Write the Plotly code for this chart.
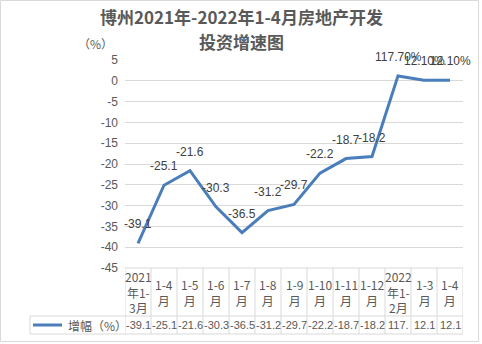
import plotly.graph_objects as go

# Period labels (data-table header) and growth values
periods = ["2021<br>年1-<br>3月", "1-4<br>月", "1-5<br>月", "1-6<br>月", "1-7<br>月", "1-8<br>月",
           "1-9<br>月", "1-10<br>月", "1-11<br>月", "1-12<br>月", "2022<br>年1-<br>2月", "1-3<br>月", "1-4<br>月"]
growth = [-39.1, -25.1, -21.6, -30.3, -36.5, -31.2, -29.7, -22.2, -18.7, -18.2, 1.177, 0.121, 0.121]
# 2022 values are stored as fractions and shown in percent format
pct_format = [False] * 10 + [True] * 3
y_ticks = list(range(-45, 10, 5))

series_name = "增幅（%）"
title_lines = ["博州2021年-2022年1-4月房地产开发", "投资增速图"]

W, H = 482, 344
L, R, T, B = 125, 19, 60, 76
PW, PH = W - L - R, H - T - B


def px_x(p):
    return (p - L) / PW


def px_y(p):
    return (H - B - p) / PH


def fmt(v, is_pct):
    return f"{v * 100:.2f}%" if is_pct else f"{v:.1f}"


labels = [fmt(v, p) for v, p in zip(growth, pct_format)]
# table cells are narrow, so long percent strings get clipped
cell_text = [s[:4] if p else s for s, p in zip(labels, pct_format)]

line_color = "#4A7EBB"
text_color = "#595959"
grid_color = "#D9D9D9"
num_font = "Liberation Sans, Noto Sans CJK SC"
cjk_font = "Noto Sans CJK SC"

xs = list(range(len(growth)))

fig = go.Figure()
fig.add_trace(go.Scatter(
    x=xs, y=growth, mode="lines",
    line=dict(color=line_color, width=3),
    hoverinfo="skip", showlegend=False,
))

annotations = []
# data labels above each point
for x, v, s in zip(xs, growth, labels):
    annotations.append(dict(
        x=x, y=v, xref="x", yref="y", text=s, showarrow=False,
        yshift=19, font=dict(family=num_font, size=12, color="#404040"),
    ))
# data table: header row and value row
for x, p, c in zip(xs, periods, cell_text):
    annotations.append(dict(
        x=x, y=px_y(292), xref="x", yref="paper", text=p, showarrow=False,
        yanchor="middle", font=dict(family=cjk_font, size=12, color=text_color),
    ))
    annotations.append(dict(
        x=x, y=px_y(325), xref="x", yref="paper", text=c, showarrow=False,
        yanchor="middle", font=dict(family=num_font, size=11, color=text_color),
    ))
# legend key cell
annotations.append(dict(
    x=px_x(66), y=px_y(325), xref="paper", yref="paper", text=series_name,
    showarrow=False, xanchor="left", yanchor="middle",
    font=dict(family=cjk_font, size=12, color=text_color),
))
# title (two lines) and unit
for line, py in zip(title_lines, (16, 41)):
    annotations.append(dict(
        x=px_x(241), y=px_y(py), xref="paper", yref="paper", text=line,
        showarrow=False, xanchor="center", yanchor="middle",
        font=dict(family=cjk_font, size=17, color=text_color, weight="bold"),
    ))
annotations.append(dict(
    x=px_x(95), y=px_y(43), xref="paper", yref="paper", text="（%）",
    showarrow=False, xanchor="center", yanchor="middle",
    font=dict(family=cjk_font, size=12, color=text_color),
))

shapes = []
tbl_line = dict(color=grid_color, width=1)
# horizontal table rules
shapes.append(dict(type="line", xref="paper", yref="paper",
                   x0=0, x1=1, y0=px_y(268), y1=px_y(268), line=tbl_line))
for py in (316, 334):
    shapes.append(dict(type="line", xref="paper", yref="paper",
                       x0=px_x(30), x1=1, y0=px_y(py), y1=px_y(py), line=tbl_line))
# vertical table rules between periods
for i in range(len(growth) + 1):
    shapes.append(dict(type="line", xref="x", yref="paper",
                       x0=i - 0.5, x1=i - 0.5, y0=px_y(268), y1=px_y(334), line=tbl_line))
shapes.append(dict(type="line", xref="paper", yref="paper",
                   x0=px_x(30), x1=px_x(30), y0=px_y(316), y1=px_y(334), line=tbl_line))
# legend key line
shapes.append(dict(type="line", xref="paper", yref="paper",
                   x0=px_x(33), x1=px_x(62), y0=px_y(325), y1=px_y(325),
                   line=dict(color=line_color, width=3)))
# chart border
shapes.append(dict(type="rect", xref="paper", yref="paper",
                   x0=px_x(0.5), x1=px_x(478.5), y0=px_y(341.5), y1=px_y(0.5),
                   line=dict(color=grid_color, width=1)))

fig.update_layout(
    width=W, height=H,
    margin=dict(l=L, r=R, t=T, b=B),
    paper_bgcolor="white", plot_bgcolor="white",
    xaxis=dict(range=[-0.5, len(growth) - 0.5], showticklabels=False, showgrid=False,
               zeroline=False, showline=False, fixedrange=True),
    yaxis=dict(range=[-45, 5], tickvals=y_ticks, ticktext=[str(t) for t in y_ticks],
               showgrid=True, gridcolor=grid_color, gridwidth=1, zeroline=False,
               showline=False, ticks="", ticklabelstandoff=6,
               tickfont=dict(family=num_font, size=12, color=text_color)),
    annotations=annotations,
    shapes=shapes,
)

fig.write_html("out.html")
